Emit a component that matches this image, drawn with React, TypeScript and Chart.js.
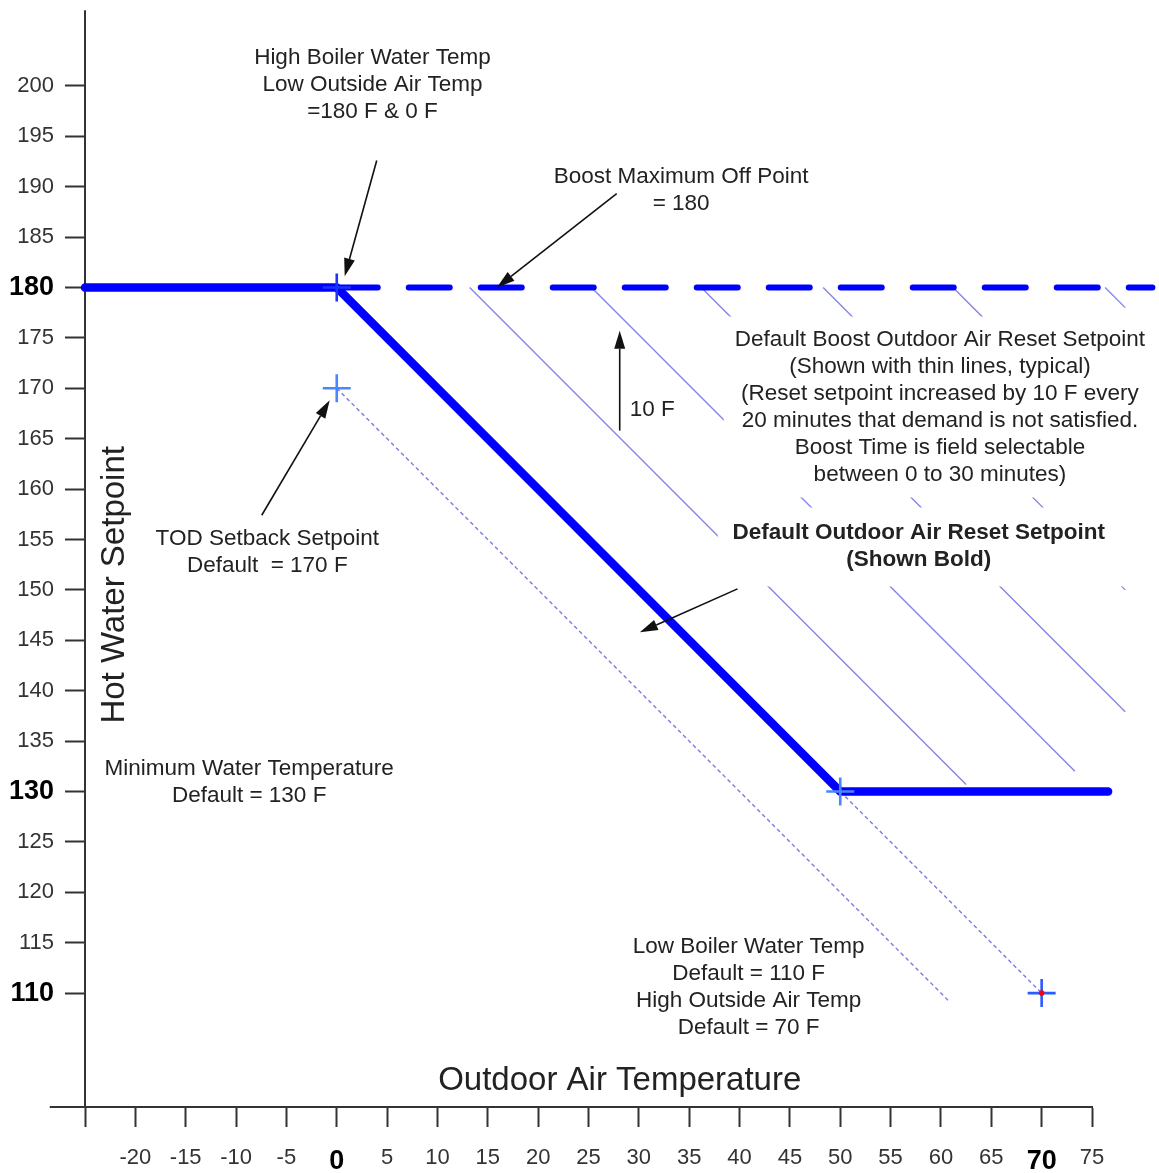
import React, { useEffect, useRef } from 'react';
import { Chart, registerables } from 'chart.js';

Chart.register(...registerables);

const FONT = '"Liberation Sans", Arial, Helvetica, sans-serif';

// ---- axes ----
const xTicks = [-25, -20, -15, -10, -5, 0, 5, 10, 15, 20, 25, 30, 35, 40, 45, 50, 55, 60, 65, 70, 75];
const xTickLabels = ['', '-20', '-15', '-10', '-5', '0', '5', '10', '15', '20', '25', '30', '35', '40', '45', '50', '55', '60', '65', '70', '75'];
const yTicks = [110, 115, 120, 125, 130, 135, 140, 145, 150, 155, 160, 165, 170, 175, 180, 185, 190, 195, 200];
const yTickLabels = ['110', '115', '120', '125', '130', '135', '140', '145', '150', '155', '160', '165', '170', '175', '180', '185', '190', '195', '200'];
const boldXTicks = [0, 70];
const boldYTicks = [110, 130, 180];
const xRange = [-25, 75];
const yRange = [98.7, 206.87];
const xAxisLeftEnd = -28.5;
const yAxisTopEnd = 207.5;

// ---- series ----
// Default outdoor air reset setpoint (bold)
const resetX = [-25, 0, 50, 76.6];
const resetY = [180, 180, 130, 130];
// Boost maximum off point (dashed)
const boostMaxX = [0, 81];
const boostMaxY = [180, 180];
// Boost reset setpoint lines (thin)
const boost1X = [13.2, 62.5];
const boost1Y = [180, 130.7];
const boost2X = [25.3, 73.3];
const boost2Y = [180, 132];
const boost3X = [36.2, 78.3];
const boost3Y = [180, 137.9];
const boost4X = [48.3, 78.3];
const boost4Y = [180, 150];
const boost5X = [61.2, 78.3];
const boost5Y = [180, 162.9];
const boost6X = [76.3, 78.3];
const boost6Y = [180, 178];
// TOD setback line (dotted)
const setbackX = [0, 60.7];
const setbackY = [170, 109.3];
// Low limit extension (dotted)
const lowLimitX = [50, 70];
const lowLimitY = [130, 110];
// Key points (crosses)
const markerX = [0, 0, 50, 70];
const markerY = [180, 170, 130, 110];
const markerColors = ['#1a33ff', '#4a86ff', '#4a86ff', '#2a5cff'];
const endPointX = [70];
const endPointY = [110];

const zip = (xs: number[], ys: number[]) => xs.map((x, i) => ({ x, y: ys[i] }));

// ---- annotations (data coordinates) ----
const textBlocks = [
  { x: 3.55, y: 202.8, lines: ['High Boiler Water Temp', 'Low Outside Air Temp', '=180 F & 0 F'] },
  { x: 34.2, y: 191.0, lines: ['Boost Maximum Off Point', '= 180'] },
  {
    x: 59.9, y: 174.8, lines: [
      'Default Boost Outdoor Air Reset Setpoint',
      '(Shown with thin lines, typical)',
      '(Reset setpoint increased by 10 F every',
      '20 minutes that demand is not satisfied.',
      'Boost Time is field selectable',
      'between 0 to 30 minutes)',
    ],
  },
  { x: 29.1, y: 167.9, lines: ['10 F'], align: 'left' },
  { x: 57.8, y: 155.7, lines: ['Default Outdoor Air Reset Setpoint', '(Shown Bold)'], bold: true },
  { x: -6.9, y: 155.1, lines: ['TOD Setback Setpoint', 'Default  = 170 F'] },
  { x: -8.7, y: 132.3, lines: ['Minimum Water Temperature', 'Default = 130 F'] },
  { x: 40.9, y: 114.6, lines: ['Low Boiler Water Temp', 'Default = 110 F', 'High Outside Air Temp', 'Default = 70 F'] },
];

const masks = [
  { x0: 38.43, x1: 80.73, y0: 159.17, y1: 177.12 },
  { x0: 37.84, x1: 78.75, y0: 150.34, y1: 158.17 },
];

const arrows = [
  { x0: 3.97, y0: 192.6, x1: 0.79, y1: 181.1 },
  { x0: 27.8, y0: 189.3, x1: 15.9, y1: 180.0 },
  { x0: -7.45, y0: 157.4, x1: -0.7, y1: 168.8 },
  { x0: 28.1, y0: 165.8, x1: 28.1, y1: 175.7 },
  { x0: 39.8, y0: 150.1, x1: 30.1, y1: 145.8 },
];

const xTitle = { text: 'Outdoor Air Temperature', x: 28.1, y: 101.3 };
const yTitle = { text: 'Hot Water Setpoint', x: -22.05, y: 150.5 };

const annotationPlugin = {
  id: 'annotations',
  afterDatasetsDraw(chart: any) {
    const { ctx, chartArea } = chart;
    const xs = chart.scales.x;
    const ys = chart.scales.y;
    const px = (v: number) => xs.getPixelForValue(v);
    const py = (v: number) => ys.getPixelForValue(v);
    ctx.save();

    // axis extensions (x axis to the left of the y axis, y axis to its top end)
    ctx.strokeStyle = '#333';
    ctx.lineWidth = 2;
    ctx.beginPath();
    ctx.moveTo(px(xAxisLeftEnd), chartArea.bottom);
    ctx.lineTo(chartArea.left, chartArea.bottom);
    ctx.moveTo(chartArea.left, chartArea.top);
    ctx.lineTo(chartArea.left, py(yAxisTopEnd));
    ctx.stroke();

    // white boxes behind the text blocks
    ctx.fillStyle = '#ffffff';
    masks.forEach((m) => {
      const l = px(m.x0), r = px(m.x1), t = py(m.y1), b = py(m.y0);
      ctx.fillRect(l, t, r - l, b - t);
    });

    // text blocks
    ctx.fillStyle = '#222';
    ctx.textBaseline = 'middle';
    textBlocks.forEach((tb: any) => {
      ctx.font = `${tb.bold ? 'bold ' : ''}22.5px ${FONT}`;
      ctx.textAlign = tb.align || 'center';
      tb.lines.forEach((line: string, i: number) => {
        ctx.fillText(line, px(tb.x), py(tb.y) + i * 27);
      });
    });

    // axis titles
    ctx.font = `33px ${FONT}`;
    ctx.textAlign = 'center';
    ctx.fillText(xTitle.text, px(xTitle.x), py(xTitle.y));
    ctx.save();
    ctx.translate(px(yTitle.x), py(yTitle.y));
    ctx.rotate(-Math.PI / 2);
    ctx.fillText(yTitle.text, 0, 0);
    ctx.restore();

    // arrows
    ctx.strokeStyle = '#111';
    ctx.fillStyle = '#111';
    ctx.lineWidth = 1.6;
    arrows.forEach((a) => {
      const x0 = px(a.x0), y0 = py(a.y0), x1 = px(a.x1), y1 = py(a.y1);
      const ang = Math.atan2(y1 - y0, x1 - x0);
      const hl = 18, hw = 5.5;
      const bx = x1 - hl * Math.cos(ang), by = y1 - hl * Math.sin(ang);
      ctx.beginPath();
      ctx.moveTo(x0, y0);
      ctx.lineTo(bx, by);
      ctx.stroke();
      ctx.beginPath();
      ctx.moveTo(x1, y1);
      ctx.lineTo(bx + hw * Math.sin(ang), by - hw * Math.cos(ang));
      ctx.lineTo(bx - hw * Math.sin(ang), by + hw * Math.cos(ang));
      ctx.closePath();
      ctx.fill();
    });
    ctx.restore();
  },
};

const thinLine = (xs: number[], ys: number[]) => ({
  data: zip(xs, ys),
  showLine: true,
  borderColor: 'rgba(120,120,225,0.9)',
  borderWidth: 1.4,
  pointRadius: 0,
  order: 4,
  clip: false,
});

const dottedLine = (xs: number[], ys: number[]) => ({
  data: zip(xs, ys),
  showLine: true,
  borderColor: 'rgba(110,110,220,0.9)',
  borderWidth: 1.4,
  borderDash: [4, 3],
  pointRadius: 0,
  order: 5,
  clip: false,
});

export default function App() {
  const canvasRef = useRef<HTMLCanvasElement | null>(null);

  useEffect(() => {
    if (!canvasRef.current) return;
    const tickFont = (isBold: boolean) =>
      isBold ? { family: FONT, size: 27, weight: 'bold' as const } : { family: FONT, size: 22, weight: 'normal' as const };

    const chart = new Chart(canvasRef.current, {
      type: 'scatter',
      data: {
        datasets: [
          {
            data: zip(endPointX, endPointY),
            pointStyle: 'circle',
            pointRadius: 2.8,
            pointBackgroundColor: '#ff0000',
            pointBorderColor: '#ff0000',
            pointBorderWidth: 0,
            showLine: false,
            order: 0,
            clip: false,
          },
          {
            data: zip(markerX, markerY),
            pointStyle: 'cross',
            pointRadius: 14,
            pointBorderWidth: 2.6,
            pointBorderColor: markerColors,
            showLine: false,
            order: 1,
            clip: false,
          },
          {
            data: zip(resetX, resetY),
            showLine: true,
            borderColor: '#0000ff',
            borderWidth: 8.5,
            borderCapStyle: 'round',
            borderJoinStyle: 'round',
            pointRadius: 0,
            order: 2,
            clip: false,
          },
          {
            data: zip(boostMaxX, boostMaxY),
            showLine: true,
            borderColor: '#0000ff',
            borderWidth: 6,
            borderDash: [41, 31],
            borderCapStyle: 'round',
            pointRadius: 0,
            order: 3,
            clip: false,
          },
          thinLine(boost1X, boost1Y),
          thinLine(boost2X, boost2Y),
          thinLine(boost3X, boost3Y),
          thinLine(boost4X, boost4Y),
          thinLine(boost5X, boost5Y),
          thinLine(boost6X, boost6Y),
          dottedLine(setbackX, setbackY),
          dottedLine(lowLimitX, lowLimitY),
        ] as any,
      },
      options: {
        responsive: false,
        animation: false,
        events: [],
        layout: { padding: { top: 10, right: 67, left: 0, bottom: 0 } },
        plugins: {
          legend: { display: false },
          tooltip: { enabled: false },
          title: { display: false },
        },
        scales: {
          x: {
            type: 'linear',
            min: xRange[0],
            max: xRange[1],
            afterBuildTicks: (s: any) => {
              s.ticks = xTicks.map((v) => ({ value: v }));
            },
            afterFit: (s: any) => {
              s.height = 66;
              s.paddingLeft = 0;
              s.paddingRight = 0;
            },
            ticks: {
              autoSkip: false,
              maxRotation: 0,
              minRotation: 0,
              padding: 18,
              color: (c: any) => (boldXTicks.includes(c.tick?.value) ? '#000' : '#333'),
              font: (c: any) => tickFont(boldXTicks.includes(c.tick?.value)),
              callback: (v: any) => {
                const i = xTicks.indexOf(Number(v));
                return i >= 0 ? xTickLabels[i] : '';
              },
            },
            grid: { drawOnChartArea: false, drawTicks: true, tickLength: 20, tickWidth: 2, tickColor: '#333' },
            border: { display: true, color: '#333', width: 2 },
          },
          y: {
            type: 'linear',
            min: yRange[0],
            max: yRange[1],
            afterBuildTicks: (s: any) => {
              s.ticks = yTicks.map((v) => ({ value: v }));
            },
            afterFit: (s: any) => {
              s.width = 85;
              s.paddingTop = 0;
              s.paddingBottom = 0;
            },
            ticks: {
              autoSkip: false,
              padding: 11,
              color: (c: any) => (boldYTicks.includes(c.tick?.value) ? '#000' : '#333'),
              font: (c: any) => tickFont(boldYTicks.includes(c.tick?.value)),
              callback: (v: any) => {
                const i = yTicks.indexOf(Number(v));
                return i >= 0 ? yTickLabels[i] : '';
              },
            },
            grid: { drawOnChartArea: false, drawTicks: true, tickLength: 20, tickWidth: 2, tickColor: '#333' },
            border: { display: true, color: '#333', width: 2 },
          },
        },
      } as any,
      plugins: [annotationPlugin],
    });
    return () => chart.destroy();
  }, []);

  return (
    <div style={{ position: 'absolute', left: 0, top: 0, width: 1159, height: 1173, background: '#fff' }}>
      <canvas ref={canvasRef} width={1159} height={1173} style={{ display: 'block' }} />
    </div>
  );
}
